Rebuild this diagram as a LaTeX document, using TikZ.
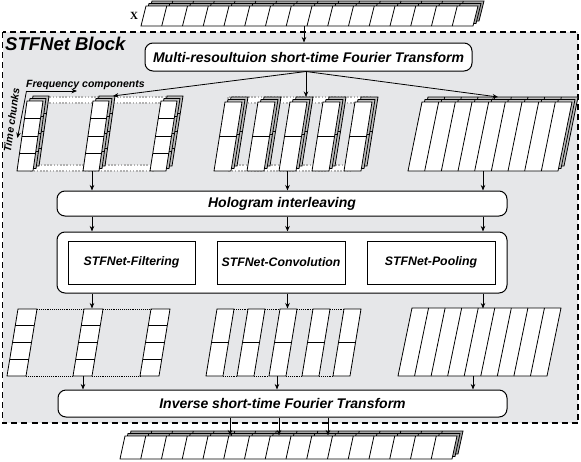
\documentclass[tikz,border=0pt]{standalone}
\usepackage{fontspec}
\setmainfont{Liberation Sans}
\newfontfamily\serifX{Liberation Serif}
\usetikzlibrary{arrows.meta,calc}
\definecolor{blockbg}{RGB}{230,231,233}
\tikzset{
  arr/.style={-{Stealth[length=5.5pt,width=4.5pt]}, line width=0.8pt},
  box/.style={draw, line width=1pt, rounded corners=8pt, fill=white, inner sep=0pt,
    font=\bfseries\itshape\fontsize{14}{16}\selectfont},
  subbox/.style={draw, line width=1pt, fill=white, inner sep=0pt,
    font=\bfseries\itshape\fontsize{12.3}{14}\selectfont},
  cell/.style={line width=0.8pt, draw=black},
  band/.style={fill=white, draw=gray!60, dash pattern=on 1.6pt off 1.6pt, line width=1.5pt},
  dotline/.style={densely dotted, line width=0.9pt},
  blockframe/.style={draw, fill=blockbg, line width=1.8pt, dash pattern=on 6pt off 4pt},
  lbl/.style={inner sep=0pt, font=\bfseries\itshape\fontsize{10.5}{12}\selectfont},
}
% column: bx by w h slant ncells fill
\newcommand\mycol[7]{%
  \filldraw[cell, fill=#7] (#1,#2) -- ++(#3,0) -- ++(#5,-#4) -- ++(-#3,0) -- cycle;
  \pgfmathtruncatemacro\mynm{#6-1}%
  \foreach \k in {1,...,\mynm}{\draw[cell] ({#1+#5*\k/#6},{#2-#4*\k/#6}) -- ++(#3,0);}%
}
% row: bx by W h slant ncells fill
\newcommand\myrow[7]{%
  \filldraw[cell, fill=#7] (#1,#2) -- ++(#3,0) -- ++(#5,-#4) -- ++(-#3,0) -- cycle;
  \pgfmathtruncatemacro\mynm{#6-1}%
  \foreach \k in {1,...,\mynm}{\draw[cell] ({#1+#3*\k/#6},#2) -- ++(#5,-#4);}%
}
\newcommand\stcol[6]{%
  \mycol{#1+6}{#2-5}{#3}{#4}{#5}{#6}{gray!50}%
  \mycol{#1+3}{#2-2.5}{#3}{#4}{#5}{#6}{gray!50}%
  \mycol{#1}{#2}{#3}{#4}{#5}{#6}{white}}
\begin{document}
\begin{tikzpicture}[x=1pt,y=-1pt]
\useasboundingbox (0,0) rectangle (581,461);
% block
\draw[blockframe] (2.5,32) rectangle (578,423);
\node[anchor=base west, inner sep=0pt, font=\bfseries\itshape\fontsize{18.5}{20}\selectfont] (blocklbl) at (5,50) {STFNet Block};

% input row
\myrow{147}{21}{332}{20}{5}{16}{gray!70}
\myrow{144}{23.5}{332}{20}{5}{16}{gray!70}
\myrow{141}{26}{332}{20}{5}{16}{white}
\node[inner sep=0pt, font=\serifX\bfseries\fontsize{11}{12}\selectfont] (xlbl) at (134,16) {X};

% output row
\myrow{126}{454}{332}{23}{5}{16}{gray!70}
\myrow{123}{456.5}{332}{23}{5}{16}{gray!70}
\myrow{120}{459}{332}{23}{5}{16}{white}

% boxes
\node[box, minimum width=327pt, minimum height=28pt] (multi) at (308.5,57) {Multi-resoultuion short-time Fourier Transform};
\node[box, minimum width=450pt, minimum height=25pt] (holo) at (282,203.5) {Hologram interleaving};
\node[box, minimum width=450pt, minimum height=61pt] (cont) at (282,262.5) {};
\node[subbox, minimum width=127pt, minimum height=43pt] (filt) at (131.5,262.5) {STFNet-Filtering};
\node[subbox, minimum width=128pt, minimum height=43pt] (conv) at (281,262.5) {STFNet-Convolution};
\node[subbox, minimum width=128pt, minimum height=43pt] (pool) at (431,262.5) {STFNet-Pooling};
\node[box, minimum width=449pt, minimum height=27pt] (inv) at (282.5,403.5) {Inverse short-time Fourier Transform};

% upper left group
\draw[band] (33,97) rectangle (172,103);
\draw[band] (30,165) rectangle (155,171);
\stcol{17}{171}{16}{70}{10}{4}
\stcol{83}{171}{16}{70}{10}{4}
\stcol{150}{171}{16}{70}{11}{4}
% upper middle group
\draw[band] (228,97) rectangle (372,103);
\draw[band] (228,165) rectangle (350,171);
\stcol{214}{171}{17}{69}{11}{2}
\stcol{247}{171}{17}{69}{11}{2}
\stcol{279}{171}{17}{69}{11}{2}
\stcol{312}{171}{17}{69}{11}{2}
\stcol{344}{171}{17}{69}{11}{2}
% upper right group
\myrow{414}{166}{150}{69}{14}{9}{gray!50}
\myrow{411}{168.5}{150}{69}{14}{9}{gray!50}
\myrow{408}{171}{150}{69}{14}{9}{white}

% lower left group
\mycol{7}{376}{19}{67}{11}{4}{white}
\mycol{73}{376}{19}{67}{11}{4}{white}
\mycol{140}{376}{19}{67}{11}{4}{white}
\draw[dotline] (37,309) -- (84,309) (103,309) -- (151,309)
               (26,376) -- (73,376) (92,376) -- (140,376);
% lower middle group
\mycol{206}{376}{17}{67}{11}{2}{white}
\mycol{237}{376}{17}{67}{11}{2}{white}
\mycol{269}{376}{17}{67}{11}{2}{white}
\mycol{302}{376}{17}{67}{11}{2}{white}
\mycol{333}{376}{17}{67}{11}{2}{white}
\draw[dotline] (234,309) -- (248,309) (265,309) -- (280,309) (297,309) -- (313,309) (330,309) -- (344,309)
               (223,376) -- (237,376) (254,376) -- (269,376) (286,376) -- (302,376) (319,376) -- (333,376);
% lower right group
\myrow{398}{376}{149}{68}{14}{9}{white}

% labels on upper left group
\node[lbl, anchor=base west] (freq) at (26,87) {Frequency components};
\node[lbl, rotate=82] (time) at (11.5,120) {Time chunks};
\coordinate (corner) at (26.5,91);
\coordinate (fend) at (77,91);
\coordinate (tend) at (17.5,138);
\draw[arr] (corner) -- (fend);
\draw[arr] (corner) -- (tend);

% helper coordinates
\coordinate (xin) at (304,26);
\coordinate (mo) at ($(multi.south)+(-2.5,0)$);
\coordinate (gA) at (113,96);
\coordinate (gB) at (306,97);
\coordinate (gC) at (498,97);
\coordinate (cL) at (92,0);
\coordinate (cM) at (287.5,0);
\coordinate (cR) at (483,0);
\coordinate (dL) at (83,0);
\coordinate (dM) at (277,0);
\coordinate (dR) at (473,0);
\coordinate (oA) at (230,0);
\coordinate (oB) at (279,0);
\coordinate (oC) at (328,0);
\coordinate (gbot) at (0,171);
\coordinate (ltop) at (0,308.5);
\coordinate (lbot) at (0,376);
\coordinate (otop) at (0,435.5);

% arrows
\draw[arr] (xin) -- (xin|-multi.north);
\draw[arr] (mo) -- (gA);
\draw[arr] (mo) -- (gB);
\draw[arr] (mo) -- (gC);
\foreach \c in {cL,cM,cR}{
  \draw[arr] (\c|-gbot) -- (\c|-holo.north);
  \draw[arr] (\c|-holo.south) -- (\c|-cont.north);
  \draw[arr] (\c|-cont.south) -- (\c|-ltop);
}
\foreach \c in {dL,dM,dR}{
  \draw[arr] (\c|-lbot) -- (\c|-inv.north);
}
\foreach \c in {oA,oB,oC}{
  \draw[arr] (\c|-inv.south) -- (\c|-otop);
}
\end{tikzpicture}
\end{document}
